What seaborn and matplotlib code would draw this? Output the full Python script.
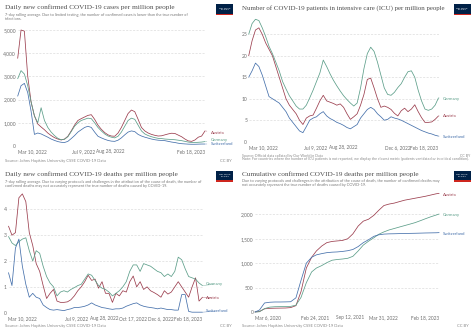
import numpy as np
import pandas as pd
import matplotlib
matplotlib.use("Agg")
import matplotlib.pyplot as plt
import matplotlib.dates as mdates
from matplotlib.patches import Rectangle
import seaborn as sns

# ---------------- data ----------------
COUNTRIES = ["Austria", "Germany", "Switzerland"]
COLORS = {"Austria": "#9b3d4d", "Germany": "#5c9e89", "Switzerland": "#4570ab"}

RECENT_START = "2022-03-10"
RECENT_END = "2023-02-18"
N_RECENT = 57

CASES_AUSTRIA = [3780, 5000, 4950, 3000, 1900, 1300, 950, 820, 700, 560,
                 450, 360, 300, 260, 300, 420, 650, 900, 1100, 1180,
                 1250, 1320, 1350, 1150, 900, 720, 580, 480, 430, 420,
                 560, 800, 1100, 1400, 1550, 1480, 1150, 800, 650, 560,
                 500, 460, 430, 440, 480, 520, 550, 540, 470, 400,
                 300, 220, 200, 260, 380, 430, 650]
CASES_GERMANY = [2900, 3250, 3100, 2600, 1900, 1300, 1000, 1650, 1100, 800,
                 600, 450, 330, 270, 290, 400, 620, 850, 1000, 1100,
                 1150, 1200, 1180, 1000, 800, 650, 520, 430, 380, 350,
                 420, 600, 850, 1100, 1200, 1150, 900, 650, 520, 450,
                 400, 360, 330, 320, 300, 290, 280, 270, 250, 230,
                 200, 170, 150, 150, 160, 170, 190]
CASES_SWITZERLAND = [2150, 2600, 2700, 2300, 1500, 500, 560, 520, 450, 380,
                     300, 240, 190, 160, 150, 200, 320, 450, 600, 700,
                     800, 850, 800, 600, 420, 350, 290, 240, 210, 200,
                     250, 350, 480, 600, 650, 620, 500, 430, 380, 340,
                     300, 270, 250, 240, 230, 200, 170, 150, 120, 100,
                     90, 80, 75, 75, 80, 85, 85]

ICU_AUSTRIA = [20, 23.5, 26, 26.5, 25, 23, 21.5, 20, 17.5, 15,
               12.5, 10, 8.5, 7.5, 6.5, 5, 4, 5.5, 6, 6.2,
               7.8, 9.5, 10.8, 9.5, 9.2, 8.9, 8.5, 8.8, 8, 6.5,
               5.2, 5.8, 6.5, 8.5, 11, 14.5, 14.8, 12.5, 10, 8,
               8.3, 8, 7.5, 6.6, 6, 7.2, 7.8, 7, 7.6, 8.6,
               7, 5.6, 4.5, 4.5, 4.6, 5.2, 6]
ICU_GERMANY = [25, 27.5, 28.5, 28.2, 26.5, 24.5, 22.2, 20.5, 18.5, 16.5,
               14, 12.3, 10.7, 9.5, 8.3, 7.6, 7.6, 8.5, 10.2, 12,
               14, 16, 19, 17.5, 15.8, 14.3, 13, 11.8, 10.7, 9.8,
               9, 8.3, 9, 12.5, 17, 20.5, 22, 21, 18.5, 15.5,
               12.5, 11, 10.8, 11.5, 12.6, 13.5, 15, 16.3, 16.5, 15,
               12, 9.5, 7.6, 7.3, 7.6, 8.5, 10.2]
ICU_SWITZERLAND = [15, 16.5, 18.3, 17.5, 15.5, 13, 10.5, 10, 9.5, 9,
                   8, 7, 5.5, 4.5, 3.5, 2.5, 2.1, 3.5, 5, 5.5,
                   5.8, 6.5, 7, 6, 5.4, 5, 4.5, 4.2, 3.8, 3.3,
                   3, 3.5, 4, 5.5, 6.5, 7.5, 8, 7.5, 6.5, 5.8,
                   5, 5.2, 5.8, 5.5, 5.3, 5, 4.6, 4.2, 3.8, 3.4,
                   3, 2.6, 2.3, 2, 1.8, 1.5, 1.3]

DEATHS_AUSTRIA = [3.35, 3.0, 3.1, 4.45, 4.6, 4.3, 3.1, 2.6, 1.9, 1.6,
                  1.05, 0.55, 0.75, 0.9, 0.45, 0.4, 0.4, 0.42, 0.5, 0.65,
                  0.85, 1.0, 1.2, 1.45, 1.25, 1.3, 0.95, 1.2, 0.75, 0.75,
                  0.4, 0.75, 0.65, 0.85, 0.8, 1.2, 1.42, 1.0, 1.2, 0.9,
                  1.0, 0.85, 0.78, 0.7, 0.6, 0.85, 0.72, 0.8, 1.0, 1.2,
                  1.0, 0.8, 0.6, 1.0, 1.35, 0.45, 0.6]
DEATHS_GERMANY = [2.95, 2.7, 2.6, 2.75, 2.85, 2.9, 2.4, 2.0, 2.4, 2.3,
                  1.8, 1.4, 1.15, 1.0, 0.65, 0.8, 0.85, 0.8, 0.9, 0.97,
                  1.05, 1.1, 1.3, 1.5, 1.45, 1.25, 1.05, 0.95, 0.9, 0.8,
                  0.65, 0.75, 0.85, 1.0, 1.2, 1.6, 1.85, 1.85, 1.6, 1.9,
                  1.85, 1.8, 1.7, 1.6, 1.55, 1.4, 1.5, 1.4, 1.6, 2.15,
                  2.05, 1.7, 1.4, 1.35, 1.3, 1.15, 1.05]
DEATHS_SWITZERLAND = [1.55, 1.05, 2.5, 2.85, 1.8, 1.1, 0.6, 0.75, 0.6, 0.55,
                      0.3, 0.2, 0.12, 0.1, 0.12, 0.1, 0.08, 0.12, 0.15, 0.2,
                      0.2, 0.22, 0.25, 0.3, 0.38, 0.3, 0.25, 0.2, 0.18, 0.15,
                      0.13, 0.15, 0.15, 0.18, 0.25, 0.3, 0.35, 0.38, 0.3, 0.25,
                      0.22, 0.2, 0.18, 0.15, 0.18, 0.15, 0.12, 0.12, 0.1, 0.1,
                      0.7, 0.7, 0.05, 0.02, 0.02, 0.02, 0.02]

CUM_DATES = ["2020-03-06"] + [d.strftime("%Y-%m-%d") for d in
             pd.date_range("2020-04-01", "2023-02-01", freq="MS")] + ["2023-02-18"]
CUM_AUSTRIA = [0, 10, 65, 75, 78, 80, 82, 90, 130, 420,
               900, 1120, 1250, 1350, 1420, 1445, 1455, 1465, 1500, 1600,
               1760, 1860, 1900, 1980, 2080, 2180, 2210, 2230, 2260, 2290,
               2310, 2330, 2350, 2370, 2395, 2420, 2430]
CUM_GERMANY = [0, 5, 70, 100, 108, 110, 112, 115, 140, 300,
               600, 820, 900, 950, 1010, 1060, 1075, 1085, 1100, 1140,
               1250, 1370, 1450, 1520, 1590, 1640, 1680, 1710, 1740, 1770,
               1800, 1830, 1870, 1910, 1950, 1985, 2005]
CUM_SWITZERLAND = [0, 40, 185, 200, 205, 205, 207, 210, 290, 650,
                   1000, 1120, 1170, 1195, 1215, 1225, 1230, 1240, 1255, 1280,
                   1340, 1420, 1480, 1550, 1580, 1595, 1600, 1602, 1605, 1608,
                   1610, 1612, 1615, 1618, 1620, 1622, 1625]

TICKS_P1 = ["2022-03-10", "2022-07-09", "2022-08-28", "2023-02-18"]
LABELS_P1 = ["Mar 10, 2022", "Jul 9, 2022", "Aug 28, 2022", "Feb 18, 2023"]
TICKS_P2 = ["2022-03-10", "2022-07-09", "2022-08-28", "2022-12-06", "2023-02-18"]
LABELS_P2 = ["Mar 10, 2022", "Jul 9, 2022", "Aug 28, 2022", "Dec 6, 2022", "Feb 18, 2023"]
TICKS_P3 = ["2022-03-10", "2022-07-09", "2022-08-28", "2022-10-17", "2022-12-06", "2023-02-18"]
LABELS_P3 = ["Mar 10, 2022", "Jul 9, 2022", "Aug 28, 2022", "Oct 17, 2022", "Dec 6, 2022", "Feb 18, 2023"]
TICKS_P4 = ["2020-03-06", "2021-02-24", "2021-09-12", "2022-03-31", "2023-02-18"]
LABELS_P4 = ["Mar 6, 2020", "Feb 24, 2021", "Sep 12, 2021", "Mar 31, 2022", "Feb 18, 2023"]

# ---------------- style ----------------
sns.set_theme(style="white")
plt.rcParams["font.family"] = ["Lato", "DejaVu Sans"]

W, H = 474, 332
fig = plt.figure(figsize=(W / 100, H / 100), dpi=100)
fig.patch.set_facecolor("white")

TITLE_C = "#4f4f4f"
SUB_C = "#7a7a7a"
TICK_C = "#6e6e6e"
FOOT_C = "#8a8a8a"
TITLE_FS = 5.25
SUB_FS = 2.8
FOOT_FS = 3.0


def rect(l, r, t, b):
    return [l / W, 1 - b / H, (r - l) / W, (b - t) / H]


def long_df(dates, series):
    frames = [pd.DataFrame({"date": pd.to_datetime(dates), "value": v, "country": k})
              for k, v in series.items()]
    return pd.concat(frames, ignore_index=True)


def ftext(x, y, s, **kw):
    fig.text(x / W, 1 - y / H, s, va="center", **kw)


def logo(x0, y0):
    w, h = 17, 11
    fig.add_artist(Rectangle((x0 / W, 1 - (y0 + h) / H), w / W, h / H,
                             transform=fig.transFigure, facecolor="#002147", edgecolor="none"))
    fig.add_artist(Rectangle((x0 / W, 1 - (y0 + h) / H), w / W, 1.2 / H,
                             transform=fig.transFigure, facecolor="#ce261e", edgecolor="none"))
    fig.text((x0 + w / 2) / W, 1 - (y0 + h / 2 - 0.4) / H, "Our World\nin Data",
             ha="center", va="center", color="white", fontsize=1.7, linespacing=1.0)


def panel(box, dates, series, ymax, yticks, ylabels, xticks, xlabels, label_pos, label_x):
    ax = fig.add_axes(rect(*box))
    df = long_df(dates, series)
    sns.lineplot(data=df, x="date", y="value", hue="country", hue_order=COUNTRIES,
                 palette=COLORS, linewidth=0.55, legend=False, ax=ax)
    for ln in ax.lines:
        ln.set_clip_on(False)
    d0, d1 = pd.to_datetime(dates[0]), pd.to_datetime(dates[-1])
    ax.set_xlim(d0, d1)
    ax.set_ylim(0, ymax)
    ax.set_xlabel("")
    ax.set_ylabel("")
    ax.set_facecolor("white")
    for s in ax.spines.values():
        s.set_visible(False)
    ax.set_yticks(yticks)
    ax.set_yticklabels(ylabels)
    ax.yaxis.grid(True, linestyle=(0, (3, 2)), color="#dcdcdc", linewidth=0.5)
    ax.xaxis.grid(False)
    ax.axhline(0, color="#bdbdbd", linewidth=0.6, zorder=1)
    ax.tick_params(axis="y", length=0, pad=1.2, labelsize=3.6, labelcolor=TICK_C)
    ax.set_xticks(pd.to_datetime(xticks))
    ax.set_xticklabels(xlabels)
    ax.tick_params(axis="x", length=1.5, width=0.4, color="#c4c4c4", pad=0.8,
                   labelsize=3.4, labelcolor=TICK_C)
    tl = ax.get_xticklabels()
    tl[0].set_ha("left")
    tl[-1].set_ha("right")
    for c in COUNTRIES:
        v = series[c]
        ax.annotate(c, xy=(mdates.date2num(d1), v[-1]), xycoords="data",
                    xytext=(label_x, H - label_pos[c]), textcoords="figure pixels",
                    ha="left", va="center", fontsize=3.2, color=COLORS[c],
                    annotation_clip=False,
                    arrowprops=dict(arrowstyle="-", color=COLORS[c], lw=0.35,
                                    shrinkA=0.6, shrinkB=0.4, alpha=0.7))
    return ax


recent = pd.date_range(RECENT_START, RECENT_END, periods=N_RECENT)

# ---------- panel 1: cases ----------
ftext(5, 7.5, "Daily new confirmed COVID-19 cases per million people",
      family="Liberation Serif", fontsize=TITLE_FS, color=TITLE_C)
ftext(5, 15, "7-day rolling average. Due to limited testing, the number of confirmed cases is lower than the true number of",
      fontsize=SUB_FS, color=SUB_C)
ftext(5, 19, "infections.", fontsize=SUB_FS, color=SUB_C)
logo(216, 4)
panel((17.7, 205, 146 - 5200 * 116 / 5000, 146),
      recent, {"Austria": CASES_AUSTRIA, "Germany": CASES_GERMANY, "Switzerland": CASES_SWITZERLAND},
      5200, [0, 1000, 2000, 3000, 4000, 5000], ["0", "1,000", "2,000", "3,000", "4,000", "5,000"],
      TICKS_P1, LABELS_P1, {"Austria": 132.5, "Germany": 139.7, "Switzerland": 143.7}, 211)
ftext(5, 161, "Source: Johns Hopkins University CSSE COVID-19 Data", fontsize=FOOT_FS, color=FOOT_C)
ftext(232, 161, "CC BY", fontsize=FOOT_FS, color=FOOT_C, ha="right")

# ---------- panel 2: ICU ----------
ftext(242, 8, "Number of COVID-19 patients in intensive care (ICU) per million people",
      family="Liberation Serif", fontsize=4.95, color=TITLE_C)
logo(453.5, 4)
panel((248.7, 438.5, 141.7 - 28.5 * 4.296, 141.7),
      recent, {"Austria": ICU_AUSTRIA, "Germany": ICU_GERMANY, "Switzerland": ICU_SWITZERLAND},
      28.5, [0, 5, 10, 15, 20, 25], ["0", "5", "10", "15", "20", "25"],
      TICKS_P2, LABELS_P2, {"Austria": 116, "Germany": 99, "Switzerland": 136.5}, 442.5)
ftext(242, 155.7, "Source: Official data collated by Our World in Data", fontsize=2.6, color=FOOT_C)
ftext(242, 159.4, "Note: For countries where the number of ICU patients is not reported, we display the closest metric (patients ventilated or in critical condition).",
      fontsize=2.6, color=FOOT_C)
ftext(470, 155.7, "CC BY", fontsize=2.6, color=FOOT_C, ha="right")

# ---------- panel 3: deaths ----------
ftext(5, 174.5, "Daily new confirmed COVID-19 deaths per million people",
      family="Liberation Serif", fontsize=TITLE_FS, color=TITLE_C)
ftext(5, 181.5, "7-day rolling average. Due to varying protocols and challenges in the attribution of the cause of death, the number of",
      fontsize=SUB_FS, color=SUB_C)
ftext(5, 186, "confirmed deaths may not accurately represent the true number of deaths caused by COVID-19.",
      fontsize=SUB_FS, color=SUB_C)
logo(216, 170.5)
panel((8.5, 202.5, 312.7 - 4.7 * 25.83, 312.7),
      recent, {"Austria": DEATHS_AUSTRIA, "Germany": DEATHS_GERMANY, "Switzerland": DEATHS_SWITZERLAND},
      4.7, [0, 1, 2, 3, 4], ["0", "1", "2", "3", "4"],
      TICKS_P3, LABELS_P3, {"Austria": 297.7, "Germany": 284.3, "Switzerland": 311}, 205.5)
ftext(5, 326.3, "Source: Johns Hopkins University CSSE COVID-19 Data", fontsize=FOOT_FS, color=FOOT_C)
ftext(232, 326.3, "CC BY", fontsize=FOOT_FS, color=FOOT_C, ha="right")

# ---------- panel 4: cumulative deaths ----------
ftext(242, 174, "Cumulative confirmed COVID-19 deaths per million people",
      family="Liberation Serif", fontsize=TITLE_FS, color=TITLE_C)
ftext(242, 180.7, "Due to varying protocols and challenges in the attribution of the cause of death, the number of confirmed deaths may",
      fontsize=SUB_FS, color=SUB_C)
ftext(242, 185.3, "not accurately represent the true number of deaths caused by COVID-19.",
      fontsize=SUB_FS, color=SUB_C)
logo(453.5, 170.5)
panel((255, 439, 312 - 2450 * 0.04884, 312),
      CUM_DATES, {"Austria": CUM_AUSTRIA, "Germany": CUM_GERMANY, "Switzerland": CUM_SWITZERLAND},
      2450, [0, 500, 1000, 1500, 2000], ["0", "500", "1,000", "1,500", "2,000"],
      TICKS_P4, LABELS_P4, {"Austria": 195.3, "Germany": 215, "Switzerland": 233.7}, 442.5)
ftext(242, 326.3, "Source: Johns Hopkins University CSSE COVID-19 Data", fontsize=FOOT_FS, color=FOOT_C)
ftext(469, 326.3, "CC BY", fontsize=FOOT_FS, color=FOOT_C, ha="right")

fig.savefig("out.png", dpi=100, facecolor="white")
